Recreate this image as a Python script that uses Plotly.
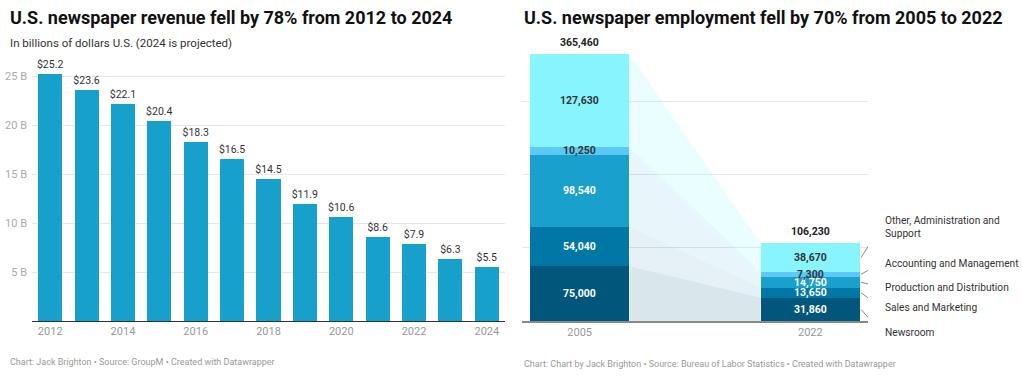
import plotly.graph_objects as go

W, H = 1022, 377

# ---------------- data ----------------
rev_years = [2012, 2013, 2014, 2015, 2016, 2017, 2018, 2019, 2020, 2021, 2022, 2023, 2024]
rev_values = [25.2, 23.6, 22.1, 20.4, 18.3, 16.5, 14.5, 11.9, 10.6, 8.6, 7.9, 6.3, 5.5]
rev_tickvals = [2012, 2014, 2016, 2018, 2020, 2022, 2024]
rev_ytickvals = [5, 10, 15, 20, 25]
rev_yticktext = ["5 B", "10 B", "15 B", "20 B", "25 B"]

emp_years = ["2005", "2022"]
emp_categories = ["Newsroom", "Sales and Marketing", "Production and Distribution",
                  "Accounting and Management", "Other, Administration and<br>Support"]
emp_2005 = [75000, 54040, 98540, 10250, 127630]
emp_2022 = [31860, 13650, 14750, 7300, 38670]
emp_colors = ["#00567b", "#0077a4", "#19a0cc", "#5ccaf5", "#88f5fe"]
emp_text_colors = ["white", "white", "white", "#333333", "#333333"]
emp_band_colors = ["rgba(0,86,123,0.15)", "rgba(0,119,164,0.10)", "rgba(25,160,204,0.10)",
                   "rgba(92,202,245,0.15)", "rgba(136,245,254,0.18)"]
emp_gridvals = [100000, 200000, 300000]

FONT = "Roboto"
fig = go.Figure()

# ---------------- left chart ----------------
fig.add_trace(go.Bar(
    x=rev_years, y=rev_values, width=0.66,
    marker=dict(color="#18a0cc", line=dict(width=0)),
    text=[f"${v}" for v in rev_values], textposition="outside", constraintext="none",
    textfont=dict(family=FONT, size=10.5, color="#333333"),
    cliponaxis=False, xaxis="x", yaxis="y", showlegend=False, hoverinfo="skip"))

# ---------------- right chart ----------------
bw = 0.43
x0, x1 = 0, 1
cum05 = [0]
cum22 = [0]
for a, b in zip(emp_2005, emp_2022):
    cum05.append(cum05[-1] + a)
    cum22.append(cum22[-1] + b)

# connection bands
for i in range(len(emp_2005)):
    fig.add_trace(go.Scatter(
        x=[x0 + bw / 2, x0 + bw / 2, x1 - bw / 2, x1 - bw / 2, x0 + bw / 2],
        y=[cum05[i], cum05[i + 1], cum22[i + 1], cum22[i], cum05[i]],
        mode="lines", line=dict(width=0), fill="toself",
        fillcolor=emp_band_colors[i], xaxis="x2", yaxis="y2",
        showlegend=False, hoverinfo="skip"))

for i in range(len(emp_2005)):
    fig.add_trace(go.Bar(
        x=[x0, x1], y=[emp_2005[i], emp_2022[i]], width=bw,
        marker=dict(color=emp_colors[i], line=dict(width=0)),
        xaxis="x2", yaxis="y2", showlegend=False, hoverinfo="skip"))

# ---------------- layout geometry ----------------
def py(p):
    return 1 - p / H

base_px = 321
left_top_px = 66.2
left_range = [0, (base_px - left_top_px) / 9.8]
right_scale = 267 / 365460
right_top_px = 48
right_range = [0, (base_px - right_top_px) / right_scale]

annotations = []
# segment labels
for i in range(len(emp_2005)):
    for xv, vals, cum in ((x0, emp_2005, cum05), (x1, emp_2022, cum22)):
        annotations.append(dict(
            x=xv, y=(cum[i] + cum[i + 1]) / 2, xref="x2", yref="y2",
            text=f"{vals[i]:,}", showarrow=False,
            font=dict(family=FONT, size=10.5, color=emp_text_colors[i], weight="bold")))
# totals
for xv, cum in ((x0, cum05), (x1, cum22)):
    annotations.append(dict(
        x=xv, y=cum[-1], xref="x2", yref="y2", text=f"{cum[-1]:,}",
        showarrow=False, yanchor="bottom", yshift=3,
        font=dict(family=FONT, size=10.5, color="#222222", weight="bold")))

# category labels with leader lines
label_px = [332, 307, 287, 263, 227]
end_x = 1 + (881 - 810.5) / 231
shapes = []
for i, cat in enumerate(emp_categories):
    annotations.append(dict(
        x=883 / W, y=py(label_px[i]), xref="paper", yref="paper", text=cat,
        showarrow=False, xanchor="left", yanchor="middle", align="left",
        font=dict(family=FONT, size=10.2, color="#333333")))
    shapes.append(dict(
        type="line", xref="x2", yref="paper",
        x0=x1 + bw / 2 + 0.005, x1=end_x,
        y0=py(base_px - (cum22[i] + cum22[i + 1]) / 2 * right_scale), y1=py(label_px[i]),
        line=dict(color="#888888", width=1)))

# titles, subtitles, footers
annotations += [
    dict(x=8 / W, y=py(17), xref="paper", yref="paper", xanchor="left", yanchor="middle",
         text="U.S. newspaper revenue fell by 78% from 2012 to 2024", showarrow=False,
         font=dict(family=FONT, size=18, color="#111111", weight="bold")),
    dict(x=8 / W, y=py(43), xref="paper", yref="paper", xanchor="left", yanchor="middle",
         text="In billions of dollars U.S. (2024 is projected)", showarrow=False,
         font=dict(family=FONT, size=11.5, color="#333333")),
    dict(x=8 / W, y=py(362), xref="paper", yref="paper", xanchor="left", yanchor="middle",
         text="Chart: Jack Brighton • Source: GroupM • Created with Datawrapper", showarrow=False,
         font=dict(family=FONT, size=9, color="#999999")),
    dict(x=522 / W, y=py(17), xref="paper", yref="paper", xanchor="left", yanchor="middle",
         text="U.S. newspaper employment fell by 70% from 2005 to 2022", showarrow=False,
         font=dict(family=FONT, size=18, color="#111111", weight="bold")),
    dict(x=522 / W, y=py(364), xref="paper", yref="paper", xanchor="left", yanchor="middle",
         text="Chart: Chart by Jack Brighton • Source: Bureau of Labor Statistics • Created with Datawrapper",
         showarrow=False, font=dict(family=FONT, size=9, color="#999999")),
]

fig.update_layout(
    width=W, height=H, margin=dict(l=0, r=0, t=0, b=0),
    paper_bgcolor="white", plot_bgcolor="white",
    font=dict(family=FONT), showlegend=False, barmode="stack",
    xaxis=dict(domain=[32 / W, 505 / W], range=[2011.5, 2024.5], tickvals=rev_tickvals,
               tickfont=dict(family=FONT, size=11, color="#999999"), showgrid=False,
               showline=True, linecolor="#333333", linewidth=1, ticks="", zeroline=False,
               fixedrange=True),
    yaxis=dict(domain=[py(base_px), py(left_top_px)], range=left_range, tickvals=rev_ytickvals,
               ticktext=rev_yticktext, tickfont=dict(family=FONT, size=11, color="#aaaaaa"),
               showgrid=True, gridcolor="#e6e6e6", gridwidth=1, zeroline=False,
               showline=False, ticks="", ticklabelstandoff=4),
    xaxis2=dict(domain=[522 / W, 868 / W], range=[-0.25, 1.25], tickvals=[x0, x1],
                ticktext=emp_years, tickfont=dict(family=FONT, size=11, color="#999999"),
                showgrid=False, showline=True, linecolor="#888888", linewidth=1.5,
                ticks="", zeroline=False, anchor="y2"),
    yaxis2=dict(domain=[py(base_px), py(right_top_px)], range=right_range,
                tickvals=emp_gridvals, showticklabels=False, showgrid=True,
                gridcolor="#e6e6e6", gridwidth=1, zeroline=False, showline=False,
                anchor="x2"),
    annotations=annotations, shapes=shapes,
)

fig.write_html("out.html", config={"displayModeBar": False},
               post_script="document.body.style.margin='0';")
